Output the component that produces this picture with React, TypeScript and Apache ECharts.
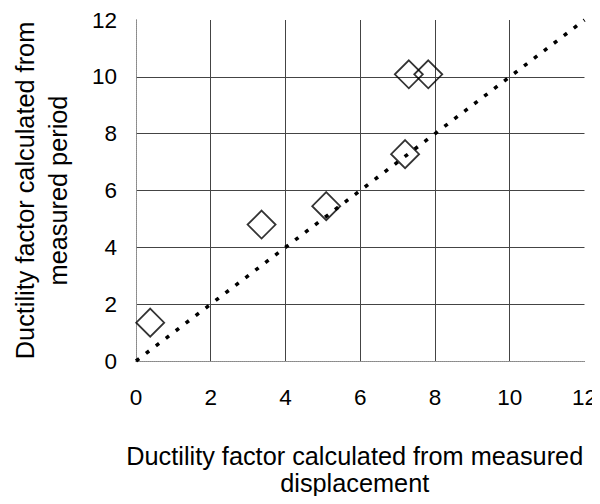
import React, { useEffect, useRef } from "react";
import * as echarts from "echarts";

const xValues = [0.38, 3.36, 5.09, 7.2, 7.3, 7.82];
const yValues = [1.35, 4.8, 5.45, 7.28, 10.09, 10.09];
const refLine = [
  [0, 0],
  [12, 12],
];
const axisTicks = [0, 2, 4, 6, 8, 10, 12];
const xTitle = "Ductility factor calculated from measured\ndisplacement";
const yTitle = "Ductility factor calculated from\nmeasured period";

const FONT = "Arial, 'Liberation Sans', sans-serif";

export default function App() {
  const ref = useRef<HTMLDivElement>(null);
  useEffect(() => {
    if (!ref.current) return;
    const chart = echarts.init(ref.current, null, { renderer: "svg" });
    const min = axisTicks[0];
    const max = axisTicks[axisTicks.length - 1];
    const interval = axisTicks[1] - axisTicks[0];
    const gridLine = { show: true, showMinLine: false, showMaxLine: false, lineStyle: { color: "#444", width: 1 } };
    const border = { show: true, lineStyle: { color: "#888", width: 1, type: [1, 1] as any } };
    chart.setOption({
      animation: false,
      backgroundColor: "#fff",
      grid: { left: 134, right: 13, top: 20, bottom: 143, containLabel: false },
      xAxis: [
        {
          type: "value",
          min,
          max,
          interval,
          axisLine: border,
          axisTick: { show: false },
          splitLine: gridLine,
          axisLabel: { color: "#000", fontSize: 22.5, fontFamily: FONT, margin: 25 },
          name: xTitle,
          nameLocation: "middle",
          nameGap: 81,
          nameTextStyle: { color: "#000", fontSize: 25.3, fontFamily: FONT, lineHeight: 27, padding: [0, 11, 0, 0] },
        },
        {
          type: "value",
          position: "top",
          min,
          max,
          interval,
          axisLine: border,
          axisTick: { show: false },
          splitLine: { show: false },
          axisLabel: { show: false },
        },
      ],
      yAxis: [
        {
          type: "value",
          min,
          max,
          interval,
          axisLine: border,
          axisTick: { show: false },
          splitLine: gridLine,
          axisLabel: { color: "#000", fontSize: 22.5, fontFamily: FONT, margin: 19 },
          name: yTitle,
          nameLocation: "middle",
          nameGap: 62,
          nameTextStyle: { color: "#000", fontSize: 25.3, fontFamily: FONT, lineHeight: 33 },
        },
        {
          type: "value",
          position: "right",
          min,
          max,
          interval,
          axisLine: border,
          axisTick: { show: false },
          splitLine: { show: false },
          axisLabel: { show: false },
        },
      ],
      series: [
        {
          type: "line",
          data: refLine,
          symbol: "none",
          lineStyle: { color: "#000", width: 3.5, type: [4, 8.5] },
          z: 2,
        },
        {
          type: "scatter",
          data: xValues.map((x, i) => [x, yValues[i]]),
          symbol: "diamond",
          symbolSize: 28,
          itemStyle: { color: "rgba(0,0,0,0)", borderColor: "#000", borderWidth: 1.8 },
          z: 3,
        },
      ],
    });
    return () => chart.dispose();
  }, []);
  return <div ref={ref} style={{ width: 600, height: 504, margin: -8 }} />;
}
